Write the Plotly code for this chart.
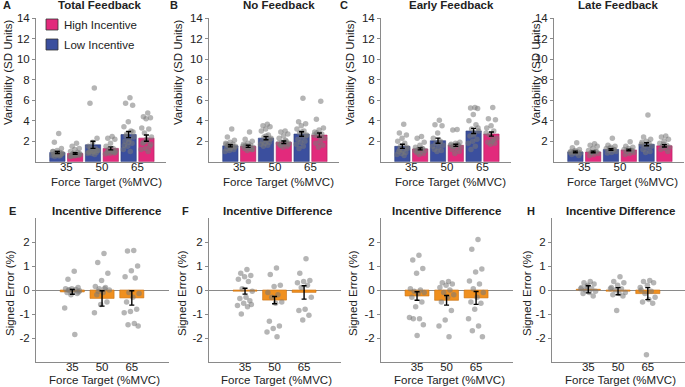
import plotly.graph_objects as go

W, H = 685, 387

# ---------------- data ----------------
force_labels = ["35", "50", "65"]
panel_titles_top = ["Total Feedback", "No Feedback", "Early Feedback", "Late Feedback"]
panel_letters_top = ["A", "B", "C", ""]
panel_letters_bot = ["E", "F", "", "H"]

# Variability means / SEM (Low incentive, High incentive) per force target
total_low_mean = [0.9, 1.65, 2.65]
total_low_err = [0.1, 0.35, 0.3]
total_high_mean = [0.8, 1.3, 2.3]
total_high_err = [0.08, 0.15, 0.3]
nofb_low_mean = [1.55, 2.3, 2.7]
nofb_low_err = [0.1, 0.15, 0.22]
nofb_high_mean = [1.5, 1.9, 2.6]
nofb_high_err = [0.1, 0.12, 0.2]
early_low_mean = [1.5, 2.05, 3.0]
early_low_err = [0.2, 0.25, 0.25]
early_high_mean = [1.25, 1.6, 2.7]
early_high_err = [0.1, 0.1, 0.2]
late_low_mean = [0.95, 1.2, 1.7]
late_low_err = [0.08, 0.08, 0.15]
late_high_mean = [0.95, 1.15, 1.55]
late_high_err = [0.08, 0.08, 0.12]

# individual subjects (variability)
total_low_pts = [
    [2.75, 1.9, 1.3, 1.1, 1.0, 0.9, 0.85, 0.8, 0.75, 0.7, 0.7, 0.65, 0.6, 0.55, 0.5, 0.8, 0.9, 1.0, 0.6, 0.7],
    [7.2, 5.7, 2.3, 1.9, 1.5, 1.3, 1.2, 1.1, 1.0, 0.9, 0.9, 0.8, 0.8, 0.7, 1.4, 1.1, 1.0, 0.95],
    [6.25, 5.7, 5.5, 3.9, 3.4, 3.0, 2.7, 2.4, 2.2, 2.0, 1.8, 1.5, 1.2, 1.0, 2.5, 2.9, 1.9, 1.6],
]
total_high_pts = [
    [1.8, 1.5, 1.3, 1.2, 1.0, 0.9, 0.8, 0.7, 0.65, 0.6, 0.6, 0.55, 0.5, 0.7, 0.75, 0.8, 0.6, 0.5],
    [2.45, 2.3, 2.2, 1.8, 1.5, 1.3, 1.2, 1.1, 1.0, 0.9, 0.85, 0.8, 0.75, 1.0, 1.1, 0.9],
    [4.75, 4.4, 4.3, 4.2, 3.3, 3.2, 2.8, 2.4, 2.0, 1.8, 1.5, 1.3, 1.2, 1.0, 1.9, 1.7, 2.2],
]
nofb_low_pts = [
    [3.2, 2.4, 2.1, 1.9, 1.8, 1.7, 1.6, 1.5, 1.4, 1.3, 1.2, 1.1, 1.0, 1.5, 1.6, 1.4, 1.3, 1.7],
    [3.65, 3.5, 3.4, 3.2, 3.0, 2.6, 2.4, 2.3, 2.1, 2.0, 1.9, 1.8, 1.7, 1.6, 1.5, 2.2, 2.5],
    [6.2, 3.9, 3.7, 3.5, 3.2, 3.0, 2.8, 2.6, 2.4, 2.2, 2.0, 1.9, 1.7, 1.5, 1.3, 2.5, 2.9],
]
nofb_high_pts = [
    [2.9, 2.2, 2.0, 1.8, 1.7, 1.6, 1.5, 1.4, 1.3, 1.3, 1.2, 1.1, 1.5, 1.4, 1.6, 1.2],
    [3.0, 2.9, 2.7, 2.5, 2.3, 2.0, 1.9, 1.8, 1.7, 1.6, 1.5, 1.4, 1.8, 2.1, 1.6, 1.7],
    [5.9, 4.15, 3.3, 3.1, 2.9, 2.7, 2.5, 2.3, 2.0, 1.8, 1.6, 1.4, 2.6, 2.4, 2.8],
]
early_low_pts = [
    [3.65, 2.8, 2.6, 2.3, 2.0, 1.8, 1.5, 1.3, 1.1, 1.0, 0.9, 0.8, 0.7, 0.6, 1.2, 1.4],
    [4.05, 3.6, 3.5, 2.8, 2.3, 2.0, 1.8, 1.6, 1.4, 1.2, 1.1, 1.0, 1.5, 1.9],
    [5.3, 5.25, 5.2, 4.6, 4.0, 3.6, 3.2, 3.0, 2.8, 2.5, 2.2, 2.0, 1.8, 1.5, 1.2, 3.3, 2.6],
]
early_high_pts = [
    [2.45, 2.3, 1.9, 1.6, 1.4, 1.3, 1.2, 1.1, 1.0, 0.9, 0.8, 0.7, 1.1, 1.3, 1.0],
    [3.15, 3.1, 1.9, 1.8, 1.7, 1.6, 1.5, 1.4, 1.3, 1.2, 1.0, 0.8, 1.6, 1.7, 1.5],
    [5.3, 4.2, 4.1, 3.5, 3.3, 3.0, 2.6, 2.3, 2.0, 1.9, 1.8, 1.7, 2.8, 2.2],
]
late_low_pts = [
    [1.85, 1.35, 1.2, 1.1, 1.0, 0.95, 0.9, 0.85, 0.8, 0.7, 0.6, 1.0, 0.9],
    [2.3, 1.6, 1.5, 1.4, 1.3, 1.2, 1.1, 1.0, 0.9, 0.85, 1.2, 1.3],
    [4.55, 2.4, 2.2, 2.0, 1.9, 1.8, 1.6, 1.5, 1.4, 1.2, 1.0, 0.9, 1.7],
]
late_high_pts = [
    [1.75, 1.6, 1.5, 1.3, 1.1, 1.0, 0.9, 0.8, 0.7, 0.6, 1.0, 0.9],
    [1.95, 1.5, 1.4, 1.3, 1.2, 1.1, 1.0, 0.9, 0.8, 0.7, 1.1],
    [2.5, 2.4, 2.2, 2.0, 1.8, 1.6, 1.5, 1.4, 1.3, 1.2, 1.0, 1.7],
]

# Incentive difference (signed error, %)
diffE_mean = [-0.08, -0.35, -0.33]
diffE_err = [0.1, 0.32, 0.3]
diffF_mean = [-0.05, -0.42, -0.1]
diffF_err = [0.12, 0.15, 0.28]
diffG_mean = [-0.25, -0.43, -0.33]
diffG_err = [0.18, 0.2, 0.27]
diffH_mean = [0.03, -0.05, -0.15]
diffH_err = [0.15, 0.15, 0.25]

diffE_pts = [
    [0.78, 0.45, 0.1, 0.05, 0.05, 0.02, 0.0, -0.03, -0.05, -0.1, -0.15, -0.2, -0.75, -1.85, 0.0, -0.08],
    [1.52, 1.15, 0.7, 0.4, 0.15, 0.1, 0.05, 0.0, -0.1, -0.2, -0.5, -0.6, -0.95, 0.05, -0.05],
    [1.65, 1.62, 1.0, 0.8, 0.55, 0.5, -0.1, -0.15, -0.3, -0.5, -0.8, -0.9, -0.95, -1.4, -1.45, -1.5],
]
diffF_pts = [
    [0.85, 0.7, 0.6, 0.55, 0.45, 0.35, 0.05, -0.05, -0.3, -0.35, -0.45, -0.55, -0.65, -0.7, -1.0, -0.6],
    [0.92, 0.65, 0.2, 0.15, -0.1, -0.2, -0.3, -0.5, -0.55, -1.3, -1.5, -1.6, -1.75, -1.95],
    [1.3, 0.7, 0.4, 0.35, 0.3, 0.2, 0.1, -0.3, -0.8, -0.85, -1.05, -1.25],
]
diffG_pts = [
    [1.45, 1.25, 0.9, 0.7, 0.05, 0.0, -0.05, -0.1, -0.15, -0.3, -0.5, -0.7, -1.15, -1.2, -1.2, -1.45, -1.9],
    [0.35, 0.3, 0.25, 0.2, 0.1, 0.0, -0.1, -0.2, -0.3, -0.5, -0.85, -1.25, -1.5, -1.95],
    [2.1, 1.7, 0.88, 0.75, 0.38, 0.25, 0.05, -0.1, -0.3, -0.5, -0.55, -0.8, -1.2, -1.5, -1.7, -1.95],
]
diffH_pts = [
    [0.35, 0.3, 0.25, 0.2, 0.1, 0.05, 0.0, -0.05, -0.1, -0.15, -0.25, 0.15, 0.05],
    [0.55, 0.35, 0.3, 0.2, 0.1, 0.05, 0.0, -0.1, -0.15, -0.2, -0.25, -0.85, 0.05],
    [0.4, 0.35, 0.3, 0.2, 0.0, -0.05, -0.15, -0.3, -0.4, -0.5, -0.55, -2.7, 0.1],
]

top_panels = [
    (total_low_mean, total_low_err, total_high_mean, total_high_err, total_low_pts, total_high_pts),
    (nofb_low_mean, nofb_low_err, nofb_high_mean, nofb_high_err, nofb_low_pts, nofb_high_pts),
    (early_low_mean, early_low_err, early_high_mean, early_high_err, early_low_pts, early_high_pts),
    (late_low_mean, late_low_err, late_high_mean, late_high_err, late_low_pts, late_high_pts),
]
bot_panels = [
    (diffE_mean, diffE_err, diffE_pts),
    (diffF_mean, diffF_err, diffF_pts),
    (diffG_mean, diffG_err, diffG_pts),
    (diffH_mean, diffH_err, diffH_pts),
]

# ---------------- style ----------------
BLUE = "#3b4f9e"
PINK = "#e22a7c"
ORANGE = "#f0901f"
DOT = "rgba(120,120,120,0.55)"
AXC = "#8a8a8a"
TXT = "#222222"
FONT = "Liberation Sans, Arial, sans-serif"


def px(x):
    return x / W


def py(y):
    return 1 - y / H


def jitter(n, spread):
    # deterministic low-discrepancy spread (golden ratio sequence)
    return [(((i + 1) * 0.6180339887) % 1 - 0.5) * spread for i in range(n)]


top_dom_x = [(36, 166), (209, 339), (381, 511), (554, 684)]
bot_dom_x = [(36, 169), (209, 341), (381, 513), (552, 685)]
top_dom_y = [py(161.7), py(18.3)]
bot_dom_y = [py(362), py(218)]
groups = [1, 2, 3]

fig = go.Figure()
layout = {}

def axis_style():
    return dict(showline=True, linecolor=AXC, linewidth=1, showgrid=False, automargin=False,
                tickfont=dict(family=FONT, size=11.5, color=TXT), fixedrange=True)

for k, (lm, le, hm, he, lp, hp) in enumerate(top_panels):
    xa = "x" + ("" if k == 0 else str(k + 1))
    ya = "y" + ("" if k == 0 else str(k + 1))
    ax_i = k + 1
    xl = [g - 0.25 for g in groups]
    xh = [g + 0.25 for g in groups]
    fig.add_trace(go.Bar(x=xl, y=lm, width=0.43, marker=dict(color=BLUE, line=dict(color="#2c3c7a", width=0.6)),
                         xaxis=xa, yaxis=ya, showlegend=False))
    fig.add_trace(go.Bar(x=xh, y=hm, width=0.43, marker=dict(color=PINK, line=dict(color="#b01d5e", width=0.6)),
                         xaxis=xa, yaxis=ya, showlegend=False))
    dx, dy = [], []
    for gi in range(3):
        for pts, cx in ((lp[gi], xl[gi]), (hp[gi], xh[gi])):
            j = jitter(len(pts), 0.32)
            dx += [cx + v for v in j]
            dy += pts
    fig.add_trace(go.Scatter(x=dx, y=dy, mode="markers", marker=dict(size=5.5, color=DOT),
                             xaxis=xa, yaxis=ya, showlegend=False, hoverinfo="skip"))
    fig.add_trace(go.Scatter(x=xl + xh, y=lm + hm, mode="markers", marker=dict(size=1, opacity=0),
                             error_y=dict(type="data", array=le + he, color="black", thickness=1.4, width=2.5),
                             xaxis=xa, yaxis=ya, showlegend=False, hoverinfo="skip"))
    xs = axis_style()
    xs.update(domain=[px(top_dom_x[k][0]), px(top_dom_x[k][1])], range=[0.15, 3.8],
              tickvals=groups, ticktext=force_labels, ticks="", anchor=ya, zeroline=False,
              ticklabelstandoff=-6)
    ys = axis_style()
    ys.update(domain=top_dom_y, range=[0, 14], tickvals=[2, 4, 6, 8, 10, 12, 14], ticks="outside",
              ticklen=3, tickcolor=AXC, anchor=xa, zeroline=False)
    layout["xaxis" + ("" if k == 0 else str(ax_i))] = xs
    layout["yaxis" + ("" if k == 0 else str(ax_i))] = ys

for k, (m, e, pts_all) in enumerate(bot_panels):
    ax_i = k + 5
    xa = "x" + str(ax_i)
    ya = "y" + str(ax_i)
    fig.add_trace(go.Bar(x=groups, y=m, width=0.81, marker=dict(color=ORANGE, line=dict(color="#c97010", width=0.6)),
                         xaxis=xa, yaxis=ya, showlegend=False))
    dx, dy = [], []
    for gi in range(3):
        pts = pts_all[gi]
        j = jitter(len(pts), 0.55)
        dx += [groups[gi] + v for v in j]
        dy += pts
    fig.add_trace(go.Scatter(x=dx, y=dy, mode="markers", marker=dict(size=5.5, color=DOT),
                             xaxis=xa, yaxis=ya, showlegend=False, hoverinfo="skip"))
    fig.add_trace(go.Scatter(x=groups, y=m, mode="markers", marker=dict(size=1, opacity=0),
                             error_y=dict(type="data", array=e, color="black", thickness=1.4, width=2.5),
                             xaxis=xa, yaxis=ya, showlegend=False, hoverinfo="skip"))
    xs = axis_style()
    xs.update(domain=[px(bot_dom_x[k][0]), px(bot_dom_x[k][1])], range=[-0.22, 4.25],
              tickvals=groups, ticktext=force_labels, ticks="", anchor=ya, zeroline=False,
              ticklabelstandoff=-6)
    ys = axis_style()
    ys.update(domain=bot_dom_y, range=[-3, 3], tickvals=[-2, -1, 0, 1, 2], ticktext=["-2", "-1", "0", "1", "2"],
              ticks="outside", ticklen=3, tickcolor=AXC, anchor=xa,
              zeroline=True, zerolinecolor="#8a8a8a", zerolinewidth=1)
    layout["xaxis" + str(ax_i)] = xs
    layout["yaxis" + str(ax_i)] = ys

ann = []
def text(x, y, s, size=11.5, bold=False, angle=0, xanchor="center"):
    ann.append(dict(x=px(x), y=py(y), xref="paper", yref="paper", text=("<b>%s</b>" % s) if bold else s,
                    showarrow=False, textangle=angle, xanchor=xanchor, yanchor="middle",
                    font=dict(family=FONT, size=size, color=TXT)))

# top titles / letters / axis titles
top_title_x = [100, 279, 451, 618]
top_letter_x = [7, 174, 344, 0]
top_ylab_x = [8, 178, 350, 536]
top_xlab_x = [106, 278, 450, 622]
for k in range(4):
    text(top_title_x[k], 5, panel_titles_top[k], size=11.5, bold=True)
    if panel_letters_top[k]:
        text(top_letter_x[k], 5, panel_letters_top[k], size=11, bold=True)
    text(top_ylab_x[k], 73, "Variability (SD Units)", angle=-90)
    text(top_xlab_x[k], 182, "Force Target (%MVC)")

bot_title_x = [106, 277, 447, 620]
bot_letter_x = [12, 185, 0, 531]
bot_ylab_x = [10, 182, 353, 527]
bot_xlab_x = [104, 276, 449, 620]
for k in range(4):
    text(bot_title_x[k], 211, "Incentive Difference", size=11.5, bold=True)
    if panel_letters_bot[k]:
        text(bot_letter_x[k], 211, panel_letters_bot[k], size=11, bold=True)
    text(bot_ylab_x[k], 293, "Signed Error (%)", angle=-90)
    text(bot_xlab_x[k], 380, "Force Target (%MVC)")

# legend in panel A
shapes = [
    dict(type="rect", xref="paper", yref="paper", x0=px(46), x1=px(58), y0=py(30), y1=py(19),
         fillcolor=PINK, line=dict(color="#333333", width=0.8)),
    dict(type="rect", xref="paper", yref="paper", x0=px(46), x1=px(58), y0=py(50), y1=py(39),
         fillcolor=BLUE, line=dict(color="#333333", width=0.8)),
]
text(62, 24.5, "High Incentive", size=11.5, xanchor="left")
text(62, 44.5, "Low Incentive", size=11.5, xanchor="left")

fig.update_layout(width=W, height=H, margin=dict(l=0, r=0, t=0, b=0, autoexpand=False), paper_bgcolor="white",
                  plot_bgcolor="white", annotations=ann, shapes=shapes, barmode="overlay",
                  font=dict(family=FONT, color=TXT), **layout)

fig.write_html("out.html", config={"displayModeBar": False, "staticPlot": True},
               post_script="document.body.style.margin='0px';document.body.style.overflow='hidden';")
